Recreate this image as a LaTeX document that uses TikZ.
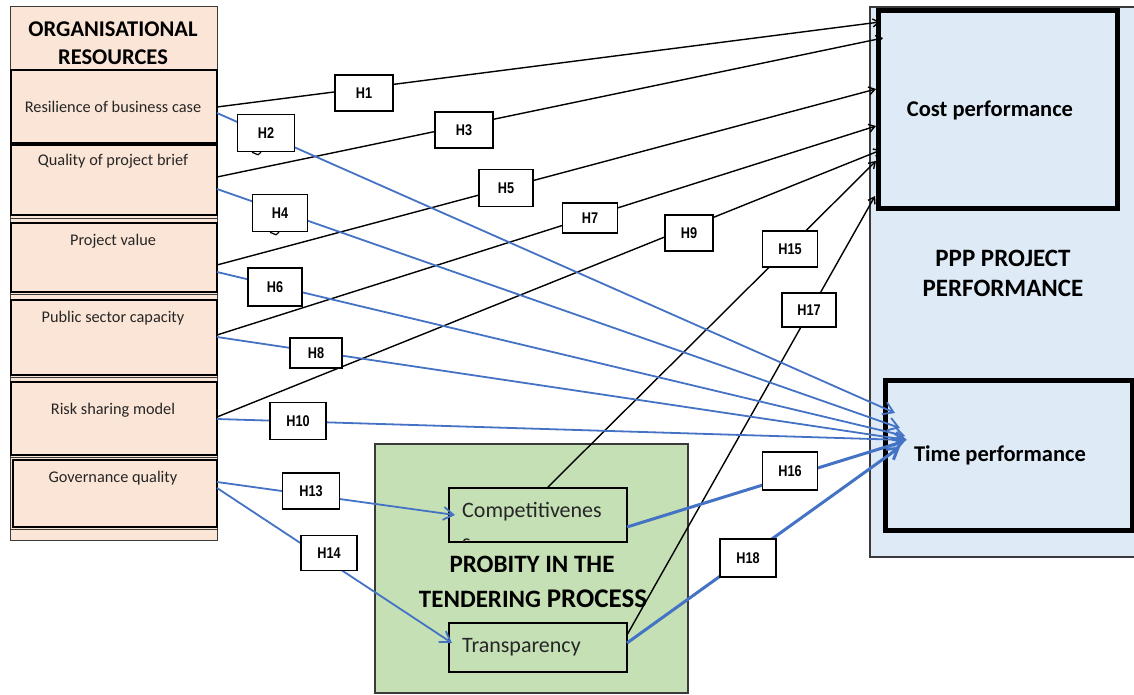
\documentclass[tikz,border=0pt]{standalone}
\usepackage{fontspec}
\setmainfont{Carlito}
\newfontfamily\hfont[FakeStretch=0.82]{Liberation Sans}
\usetikzlibrary{arrows.meta}
\definecolor{peach}{HTML}{FBE5D6}
\definecolor{paleblue}{HTML}{DEEBF7}
\definecolor{palegreen}{HTML}{C5E0B4}
\definecolor{linkblue}{HTML}{4472C4}
\definecolor{inkgray}{HTML}{262626}
\definecolor{edgegray}{HTML}{3A3A3A}
\begin{document}
\begin{tikzpicture}[x=1pt,y=-1pt,
  base/.style={rectangle,inner sep=0pt,outer sep=0pt,anchor=north west},
  orgbox/.style={base,draw=black,line width=1.6pt,fill=peach,minimum width=206pt},
  orgtext/.style={inner sep=0pt,text=inkgray,font=\fontsize{16.3}{19}\selectfont},
  perfbox/.style={base,draw=black,line width=5pt,fill=paleblue},
  perftext/.style={inner sep=0pt,text=black,font=\bfseries\fontsize{22.5}{27}\selectfont},
  probbox/.style={base,draw=black,line width=1.5pt,fill=palegreen},
  hbox/.style={rectangle,draw=black,line width=1.5pt,fill=white,inner sep=0pt,
    minimum width=55pt,minimum height=36pt,text=black,
    font=\hfont\bfseries\fontsize{15.5}{17}\selectfont},
  costlink/.style={draw=black,line width=1.4pt,-{Straight Barb[length=6pt,width=8pt]}},
  timelink/.style={draw=linkblue,line width=1.8pt,-{Straight Barb[length=10pt,width=13pt]}},
  boldlink/.style={timelink,line width=3pt}
]
\useasboundingbox (0,0) rectangle (1134,695);

% organisational resources column
\node[base,draw=edgegray,line width=1pt,fill=peach,minimum width=207pt,minimum height=533pt] (org) at (10,7) {};
\foreach \yy in {218,294,377,457,529} \draw[line width=0.8pt,edgegray] (10,\yy) -- (217,\yy);
\node[align=center,inner sep=0pt,text=black,font=\bfseries\fontsize{22.5}{28}\selectfont] (orgtitle) at (113,43) {ORGANISATIONAL\\RESOURCES};

\node[orgbox,minimum height=73pt] (res)  at (11,70)  {};
\node[orgbox,minimum height=70pt] (qual) at (11,145) {};
\node[orgbox,minimum height=69pt] (pv)   at (11,223) {};
\node[orgbox,minimum height=75pt] (pub)  at (11,300) {};
\node[orgbox,minimum height=73pt] (risk) at (11,382) {};
\node[orgbox,minimum height=67pt,minimum width=204pt] (gov) at (13,460) {};

\node[orgtext] (tres)  at (113,107) {Resilience of business case};
\node[orgtext] (tqual) at (113,161) {Quality of project brief};
\node[orgtext] (tpv)   at (113,241) {Project value};
\node[orgtext] (tpub)  at (113,318) {Public sector capacity};
\node[orgtext] (trisk) at (113,410) {Risk sharing model};
\node[orgtext] (tgov)  at (113,478) {Governance quality};

% PPP project performance
\node[base,draw=edgegray,line width=1.2pt,fill=paleblue,minimum width=275pt,minimum height=550pt] (ppp) at (870,7) {};
\node[perfbox,minimum width=239pt,minimum height=197pt] (cost) at (878,11) {};
\node[perfbox,minimum width=247pt,minimum height=150pt] (time) at (885,380) {};
\node[perftext] (tcost) at (990,110) {Cost performance};
\node[perftext] (ttime) at (1000,455) {Time performance};
\node[align=center,inner sep=0pt,text=black,font=\bfseries\fontsize{25}{30}\selectfont] (ppptitle) at (1003,273) {PPP PROJECT\\PERFORMANCE};

% probity in the tendering process
\node[probbox,draw=edgegray,minimum width=313pt,minimum height=249pt] (probity) at (375,444) {};
\node[probbox,minimum width=178pt,minimum height=54pt] (comp)  at (449,488) {};
\node[probbox,minimum width=178pt,minimum height=49pt] (trans) at (449,623) {};
\node[anchor=base west,inner sep=0pt,text=inkgray,font=\fontsize{22}{26}\selectfont] (tcomp) at (462,517) {Competitivenes};
\begin{scope}
  \clip (450,489) rectangle (626,541);
  \node[anchor=base west,inner sep=0pt,text=inkgray,font=\fontsize{22}{26}\selectfont] (tcomp2) at (462,549) {s};
\end{scope}
\node[anchor=base west,inner sep=0pt,text=inkgray,font=\fontsize{22}{26}\selectfont] (ttrans) at (462,652) {Transparency};
\node[anchor=base,inner sep=0pt,text=black,font=\bfseries\fontsize{25}{28}\selectfont] (tprob1) at (532,572) {PROBITY IN THE};
\node[anchor=base,inner sep=0pt,text=black,font=\bfseries\fontsize{25}{28}\selectfont] (tprob2) at (533,607) {TENDERING {\fontsize{27}{28}\selectfont PROCESS}};

% hypotheses towards cost performance
\draw[costlink] ([yshift=-0.5pt]res.east) -- ([xshift=2pt,yshift=87.5pt]cost.west);
\draw[costlink] ([yshift=3pt]qual.east)   -- ([xshift=5pt,yshift=71.5pt]cost.west);
\draw[costlink] ([yshift=-7.5pt]pv.east)  -- ([xshift=-2pt,yshift=20.5pt]cost.west);
\draw[costlink] ([yshift=2.5pt]pub.east)  -- ([xshift=-2pt,yshift=-16.5pt]cost.west);
\draw[costlink] ([yshift=1.5pt]risk.east) -- ([xshift=3pt,yshift=-40.5pt]cost.west);
\draw[costlink] ([xshift=9pt]comp.north)  -- ([xshift=-2pt,yshift=-51.5pt]cost.west);
\draw[costlink] ([yshift=-12pt]trans.north east) -- ([xshift=-3pt,yshift=-86.5pt]cost.west);

% hypotheses towards time performance
\draw[timelink] ([yshift=-6.5pt]res.east)  -- ([xshift=10pt,yshift=42pt]time.west);
\draw[timelink] ([yshift=-9pt]qual.east)   -- ([xshift=15pt,yshift=27pt]time.west);
\draw[timelink] ([yshift=-14.5pt]pv.east)  -- ([xshift=20pt,yshift=19pt]time.west);
\draw[timelink] ([yshift=0.5pt]pub.east)   -- ([xshift=22pt,yshift=15pt]time.west);
\draw[timelink] ([yshift=-0.5pt]risk.east) -- ([xshift=20pt,yshift=15pt]time.west);
\draw[timelink] ([yshift=11.5pt]gov.east)  -- ([xshift=6pt]comp.west);
\draw[timelink] ([yshift=5.5pt]gov.east)   -- ([xshift=3pt,yshift=4.5pt]trans.west);
\draw[boldlink] ([yshift=-12pt]comp.east)  -- ([xshift=20pt,yshift=14pt]time.west);
\draw[boldlink] ([yshift=4.5pt]trans.east) -- ([xshift=15pt,yshift=8pt]time.west);

% hypothesis labels
\node[hbox,minimum width=58pt] (h1) at (364,93) {H1};
\node[hbox,minimum width=57pt,minimum height=37pt] (h2) at (266,133) {H2};
\node[hbox,minimum width=58pt] (h3) at (464,130) {H3};
\node[hbox,minimum height=37pt] (h4) at (280,213) {H4};
\node[hbox,minimum width=54pt,minimum height=37pt] (h5) at (506,188) {H5};
\node[hbox,minimum width=54pt,minimum height=38pt] (h6) at (275,287) {H6};
\node[hbox,minimum height=30pt] (h7) at (590,218) {H7};
\node[hbox,minimum width=52pt,minimum height=30pt] (h8) at (316,353) {H8};
\node[hbox,minimum width=48pt] (h9) at (689,233) {H9};
\node[hbox,minimum width=56pt,minimum height=37pt] (h10) at (298,421) {H10};
\node[hbox,minimum width=57pt] (h13) at (311,491) {H13};
\node[hbox,minimum width=56pt,minimum height=35pt] (h14) at (329,553) {H14};
\node[hbox] (h15) at (790,249) {H15};
\node[hbox,minimum height=38pt] (h16) at (790,471) {H16};
\node[hbox,minimum width=54pt,minimum height=34pt] (h17) at (809,310) {H17};
\node[hbox,minimum width=56pt,minimum height=38pt] (h18) at (748,558) {H18};

% small callout notches under H2 and H4
\draw[line width=1.2pt] ([xshift=-14pt]h2.south) -- ++(6,2.5) -- ++(3,-2.5);
\draw[line width=1.2pt] ([xshift=-10pt]h4.south) -- ++(6,2.5) -- ++(3,-2.5);
\end{tikzpicture}
\end{document}
